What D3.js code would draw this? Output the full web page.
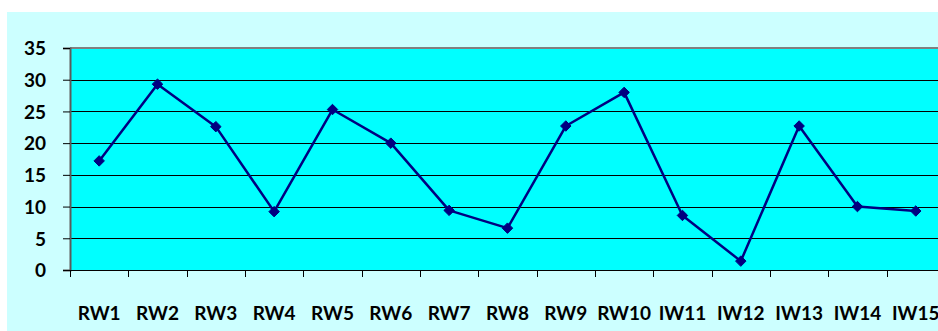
<!DOCTYPE html>
<html>
<head>
<meta charset="utf-8">
<script src="https://cdn.jsdelivr.net/npm/d3@7"></script>
<style>
  html, body { margin: 0; padding: 0; background: #ffffff; overflow: hidden; }
  svg { display: block; }
  text { font-family: Lato, "Open Sans", sans-serif; font-weight: 700; fill: #000; }
</style>
</head>
<body>
<svg id="chart" width="938" height="331"></svg>
<script>
// Weekly readings
const categories = ["RW1","RW2","RW3","RW4","RW5","RW6","RW7","RW8","RW9","RW10","IW11","IW12","IW13","IW14","IW15"];
const values = [17.2, 29.3, 22.6, 9.2, 25.3, 20.0, 9.4, 6.6, 22.7, 28.0, 8.6, 1.4, 22.7, 10.0, 9.3];
const yTicks = [0, 5, 10, 15, 20, 25, 30, 35];

const W = 938, H = 331;
const plot = { left: 70, top: 48, bottom: 270, bandW: 58.33 };
const svg = d3.select("#chart");

// Outer chart area
svg.append("rect").attr("x", 7).attr("y", 12).attr("width", W - 7).attr("height", H - 12)
  .attr("fill", "#ccffff");

const x = d3.scaleBand().domain(categories)
  .range([plot.left, plot.left + plot.bandW * categories.length]).padding(0);
const y = d3.scaleLinear().domain([0, 35]).range([plot.bottom, plot.top]);

// Plot area
svg.append("rect")
  .attr("x", plot.left).attr("y", plot.top)
  .attr("width", x.range()[1] - plot.left).attr("height", plot.bottom - plot.top)
  .attr("fill", "#00ffff");

// Horizontal gridlines
svg.append("g").selectAll("line").data(yTicks.filter(t => t > 0 && t < 35)).join("line")
  .attr("x1", plot.left).attr("x2", x.range()[1])
  .attr("y1", d => Math.round(y(d)) + 0.5).attr("y2", d => Math.round(y(d)) + 0.5)
  .attr("stroke", "#000").attr("stroke-width", 1);

// Top border of plot area
svg.append("line").attr("x1", plot.left).attr("x2", x.range()[1])
  .attr("y1", plot.top).attr("y2", plot.top)
  .attr("stroke", "#808080").attr("stroke-width", 2);

// Y axis
const yAxis = d3.axisLeft(y).tickValues(yTicks).tickSize(7).tickPadding(17);
const gy = svg.append("g").attr("transform", `translate(${plot.left},0)`).call(yAxis);
gy.select(".domain").attr("stroke", "#5a5a5a").attr("stroke-width", 2);
gy.selectAll(".tick line").attr("stroke", "#000");
gy.selectAll(".tick text").style("font-size", "19px").attr("dy", "0.36em");

// X axis: labels centred in bands, ticks at band edges
const xAxis = d3.axisBottom(x).tickSize(0).tickPadding(37);
const gx = svg.append("g").attr("transform", `translate(0,${plot.bottom})`).call(xAxis);
gx.select(".domain").remove();
gx.selectAll(".tick text").style("font-size", "19px");
svg.append("line").attr("x1", plot.left).attr("x2", x.range()[1])
  .attr("y1", plot.bottom + 0.5).attr("y2", plot.bottom + 0.5)
  .attr("stroke", "#000").attr("stroke-width", 1);
const edges = categories.map(c => x(c)).concat([x.range()[1]]);
svg.append("g").selectAll("line").data(edges).join("line")
  .attr("x1", d => Math.round(d) + 0.5).attr("x2", d => Math.round(d) + 0.5)
  .attr("y1", plot.bottom).attr("y2", plot.bottom + 7)
  .attr("stroke", "#000").attr("stroke-width", 1);

// Series line
const cx = c => x(c) + x.bandwidth() / 2;
const line = d3.line().x((d, i) => cx(categories[i])).y(d => y(d));
svg.append("path").datum(values).attr("d", line)
  .attr("fill", "none").attr("stroke", "#000080").attr("stroke-width", 2.5)
  .attr("stroke-linejoin", "round");

// Diamond markers
svg.append("g").selectAll("path").data(values).join("path")
  .attr("transform", (d, i) => `translate(${cx(categories[i])},${y(d)})`)
  .attr("d", d3.symbol().type(d3.symbolDiamond2).size(70))
  .attr("fill", "#000080").attr("stroke", "#000080").attr("stroke-width", 1);
</script>
</body>
</html>
